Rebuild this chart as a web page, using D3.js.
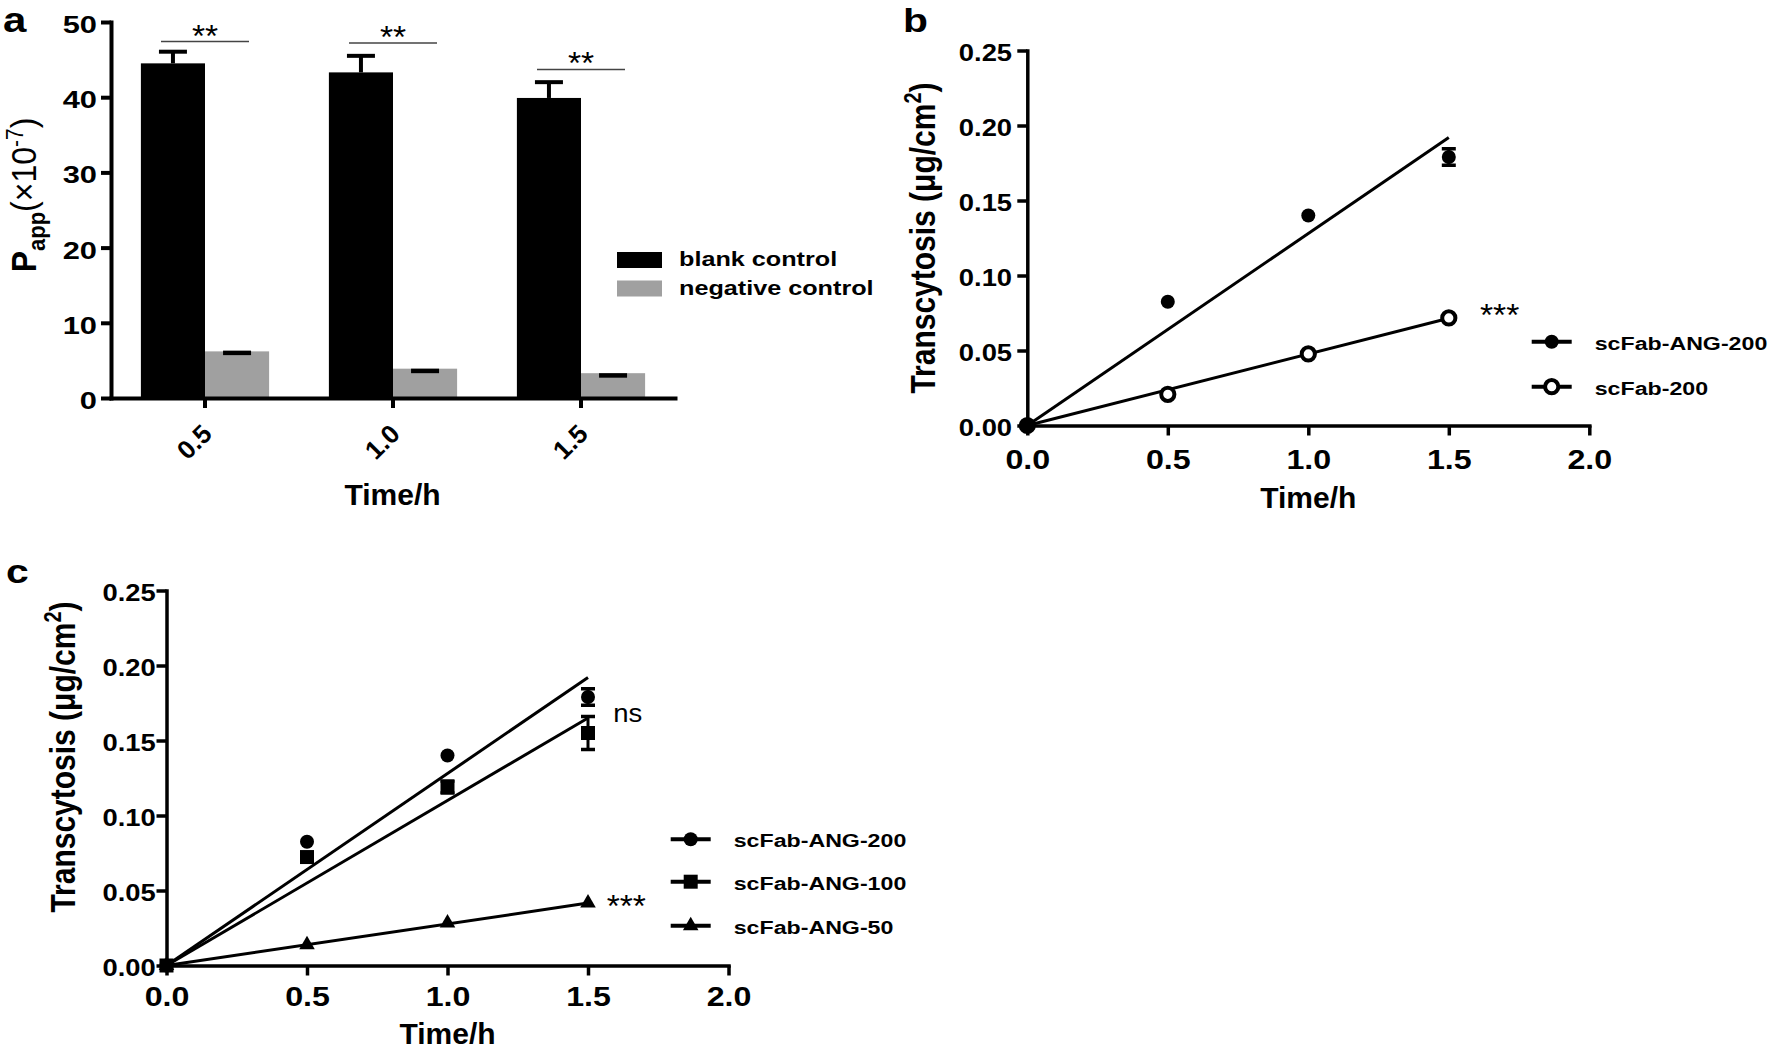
<!DOCTYPE html>
<html><head><meta charset="utf-8">
<script src="https://cdn.jsdelivr.net/npm/d3@7"></script>
<style>
body{margin:0;background:#fff}
svg{display:block}
text{font-family:"Liberation Sans",Arial,Helvetica,sans-serif}
</style>
</head><body>
<svg id="chart" width="1772" height="1050"></svg>
<script>
// ---------- Panel a data ----------
const timesA = ["0.5", "1.0", "1.5"];
const blankMean = [44.5, 43.3, 39.9];
const blankErr = [1.55, 2.2, 2.1];
const negMean = [6.2, 3.9, 3.3];
const negCap = [6.0, 3.6, 3.0];
const sigLineA = [47.4, 47.2, 43.7];
const sigLabelA = ["**", "**", "**"];
const ticksA = [0, 10, 20, 30, 40, 50];
const legendA = ["blank control", "negative control"];

// ---------- Panels b / c data ----------
const timesT = [0, 0.5, 1.0, 1.5];
const ang200 = [0, 0.0825, 0.140, 0.179];
const ang200Err = [0, 0, 0, 0.0055];
const fab200 = [0, 0.0208, 0.0477, 0.0717];
const fab200Err = [0, 0, 0, 0];
const ang100 = [0, 0.0723, 0.119, 0.155];
const ang100Err = [0, 0, 0.004, 0.011];
const ang50 = [0, 0.0138, 0.0283, 0.0416];
const ang50Err = [0, 0, 0, 0];
// fitted lines: value at time 0 and at time 1.5
const fitX = [0, 1.5];
const fitAng200 = [0, 0.192];
const fitFab200 = [0, 0.0715];
const fitAng100 = [0, 0.165];
const fitAng50 = [0, 0.0416];
const ticksXT = [0, 0.5, 1.0, 1.5, 2.0];
const ticksYT = [0, 0.05, 0.10, 0.15, 0.20, 0.25];

const svg = d3.select("#chart");

function stext(parent, x, y, s, size, weight, sx, anchor) {
  return parent.append("text")
    .attr("transform", `translate(${x},${y}) scale(${sx},1)`)
    .attr("text-anchor", anchor || "start")
    .style("font-size", size + "px")
    .style("font-weight", weight)
    .attr("fill", "#000")
    .text(s);
}

// ================= Panel a =================
const xA = d3.scaleBand().domain(timesA).range([111, 675]).paddingInner(0.318).paddingOuter(0.159);
const yA = d3.scaleLinear().domain([0, 50]).range([398, 22]);
const gA = svg.append("g");
const bw = xA.bandwidth() / 2;

gA.selectAll(".blank").data(timesA).join("rect")
  .attr("x", d => xA(d)).attr("width", bw)
  .attr("y", (d, i) => yA(blankMean[i])).attr("height", (d, i) => yA(0) - yA(blankMean[i]))
  .attr("fill", "#000");
gA.selectAll(".neg").data(timesA).join("rect")
  .attr("x", d => xA(d) + bw).attr("width", bw)
  .attr("y", (d, i) => yA(negMean[i])).attr("height", (d, i) => yA(0) - yA(negMean[i]))
  .attr("fill", "#a0a0a0");
timesA.forEach((d, i) => {
  const cx = xA(d) + bw / 2;
  gA.append("line").attr("x1", cx).attr("x2", cx)
    .attr("y1", yA(blankMean[i])).attr("y2", yA(blankMean[i] + blankErr[i]))
    .attr("stroke", "#000").attr("stroke-width", 4);
  gA.append("line").attr("x1", cx - 14).attr("x2", cx + 14)
    .attr("y1", yA(blankMean[i] + blankErr[i])).attr("y2", yA(blankMean[i] + blankErr[i]))
    .attr("stroke", "#000").attr("stroke-width", 4);
  const cg = xA(d) + bw * 1.5;
  gA.append("line").attr("x1", cg - 14).attr("x2", cg + 14)
    .attr("y1", yA(negCap[i])).attr("y2", yA(negCap[i]))
    .attr("stroke", "#000").attr("stroke-width", 4.5);
  const c = xA(d) + xA.bandwidth() / 2;
  gA.append("line").attr("x1", c - 44).attr("x2", c + 44)
    .attr("y1", yA(sigLineA[i])).attr("y2", yA(sigLineA[i]))
    .attr("stroke", "#444").attr("stroke-width", 1.5);
  stext(gA, c, yA(sigLineA[i]) + 5, sigLabelA[i], 32, "normal", 1.05, "middle");
});

const ayA = gA.append("g").attr("transform", "translate(111,0)")
  .call(d3.axisLeft(yA).tickValues(ticksA).tickSize(10).tickSizeOuter(0).tickFormat(d3.format("d")));
ayA.select(".domain").attr("stroke-width", 4).attr("stroke-linecap", "square");
ayA.selectAll(".tick line").attr("stroke-width", 4);
ayA.selectAll("text").attr("x", -10.5).attr("dy", "0.46em").attr("transform", "scale(1.34,1)")
  .style("font-size", "23px").style("font-weight", "bold").attr("fill", "#000");

const axA = gA.append("g").attr("transform", "translate(0,398)")
  .call(d3.axisBottom(xA).tickSize(10).tickSizeOuter(0));
axA.select(".domain").attr("stroke-width", 4).attr("stroke-linecap", "square");
axA.selectAll(".tick line").attr("stroke-width", 4);
axA.selectAll("text").attr("x", 0).attr("y", 0).attr("dy", "0.35em")
  .attr("text-anchor", "end").attr("transform", "translate(2,31) rotate(-45)")
  .style("font-size", "26px").style("font-weight", "bold").attr("fill", "#000");
svg.selectAll("g").attr("font-family", null).attr("font-size", null);

stext(svg, 392.5, 505, "Time/h", 30, "bold", 1, "middle");
const tA = svg.append("text").attr("transform", "translate(36,195) scale(1.1,1) rotate(-90)")
  .attr("text-anchor", "middle").style("font-size", "32px");
tA.append("tspan").text("P").style("font-weight", "bold");
tA.append("tspan").text("app").style("font-weight", "bold").style("font-size", "22px").attr("dy", 8);
tA.append("tspan").text("(×10").style("font-weight", "normal").attr("dy", -8);
tA.append("tspan").text("-7").style("font-weight", "normal").style("font-size", "21px").attr("dy", -12);
tA.append("tspan").text(")").style("font-weight", "normal").attr("dy", 12);
stext(svg, 3, 32, "a", 35, "bold", 1.2, "start");

const legFill = ["#000", "#a0a0a0"];
const legY = [252, 280.5];
legendA.forEach((s, i) => {
  svg.append("rect").attr("x", 617).attr("y", legY[i]).attr("width", 45).attr("height", 16).attr("fill", legFill[i]);
  stext(svg, 679, legY[i] + 14, s, 21, "bold", 1.2, "start");
});

// ================= Panels b / c =================
function drawMarker(g, type, cx, cy) {
  if (type === "circle") {
    g.append("circle").attr("cx", cx).attr("cy", cy).attr("r", 7).attr("fill", "#000");
  } else if (type === "open") {
    g.append("circle").attr("cx", cx).attr("cy", cy).attr("r", 6.6).attr("fill", "#fff")
      .attr("stroke", "#000").attr("stroke-width", 4);
  } else if (type === "square") {
    g.append("path").attr("d", d3.symbol(d3.symbolSquare, 196)())
      .attr("transform", `translate(${cx},${cy})`).attr("fill", "#000");
  } else if (type === "triangle") {
    g.append("path").attr("d", d3.symbol(d3.symbolTriangle, 105)())
      .attr("transform", `translate(${cx},${cy})`).attr("fill", "#000");
  }
}

function xyPanel(cfg) {
  const x = d3.scaleLinear().domain([0, 2]).range(cfg.xr);
  const y = d3.scaleLinear().domain([0, 0.25]).range(cfg.yr);
  const g = svg.append("g");

  const ay = g.append("g").attr("transform", `translate(${cfg.xr[0]},0)`)
    .call(d3.axisLeft(y).tickValues(ticksYT).tickSize(10).tickSizeOuter(0).tickFormat(d3.format(".2f")));
  ay.select(".domain").attr("stroke-width", 3.5).attr("stroke-linecap", "square");
  ay.selectAll(".tick line").attr("stroke-width", 3.5);
  ay.selectAll("text").attr("x", cfg.ylabX).attr("dy", "0.42em").attr("transform", "scale(1.19,1)")
    .style("font-size", "23px").style("font-weight", "bold").attr("fill", "#000");

  const ax = g.append("g").attr("transform", `translate(0,${cfg.yr[0]})`)
    .call(d3.axisBottom(x).tickValues(ticksXT).tickSize(10).tickSizeOuter(0).tickFormat(d3.format(".1f")));
  ax.select(".domain").attr("stroke-width", 3.5).attr("stroke-linecap", "square");
  ax.selectAll(".tick line").attr("stroke-width", 3.5);
  ax.selectAll("text").attr("y", cfg.xlabY).attr("dy", 0).attr("transform", "scale(1.15,1)")
    .style("font-size", "28px").style("font-weight", "bold").attr("fill", "#000");
  g.selectAll("g").attr("font-family", null).attr("font-size", null);

  const line = d3.line().x(d => x(d[0])).y(d => y(d[1]));
  cfg.series.forEach(s => {
    g.append("path").datum(fitX.map((t, i) => [t, s.fit[i]]))
      .attr("d", line).attr("fill", "none").attr("stroke", "#000").attr("stroke-width", 3);
  });
  cfg.series.forEach(s => {
    timesT.forEach((t, i) => {
      const e = s.err[i];
      if (e > 0) {
        const cx = x(t);
        g.append("line").attr("x1", cx).attr("x2", cx).attr("y1", y(s.values[i] - e)).attr("y2", y(s.values[i] + e))
          .attr("stroke", "#000").attr("stroke-width", 3);
        [s.values[i] - e, s.values[i] + e].forEach(v => {
          g.append("line").attr("x1", cx - 7).attr("x2", cx + 7).attr("y1", y(v)).attr("y2", y(v))
            .attr("stroke", "#000").attr("stroke-width", 3.5);
        });
      }
    });
  });
  cfg.series.forEach(s => {
    timesT.forEach((t, i) => drawMarker(g, s.marker, x(t), y(s.values[i])));
  });

  cfg.series.slice().sort((a, b) => a.legendOrder - b.legendOrder).forEach((s, i) => {
    const ly = cfg.legY[i];
    g.append("line").attr("x1", cfg.legX).attr("x2", cfg.legX + 40).attr("y1", ly).attr("y2", ly)
      .attr("stroke", "#000").attr("stroke-width", 4);
    drawMarker(g, s.marker, cfg.legX + 20, ly);
    stext(g, cfg.legX + 63, ly + 8, s.name, 19, "bold", 1.22, "start");
  });

  stext(svg, (cfg.xr[0] + cfg.xr[1]) / 2, cfg.titleXY, "Time/h", 30, "bold", 1, "middle");
  const t = svg.append("text").attr("transform", `translate(${cfg.ytitle[0]},${cfg.ytitle[1]}) scale(1.15,1) rotate(-90)`)
    .attr("text-anchor", "middle").style("font-size", "30px").style("font-weight", "bold");
  t.append("tspan").text("Transcytosis (μg/cm");
  t.append("tspan").text("2").style("font-size", "20px").attr("dy", -12);
  t.append("tspan").text(")").attr("dy", 12);
  return { x, y, g };
}

const pb = xyPanel({
  xr: [1027.3, 1589.3], yr: [425.5, 50.5], ylabX: -12.8, xlabY: 44,
  legX: 1531.7, legY: [341.7, 386.7], titleXY: 508, ytitle: [935, 238],
  series: [
    { name: "scFab-200", values: fab200, err: fab200Err, fit: fitFab200, marker: "open", legendOrder: 2 },
    { name: "scFab-ANG-200", values: ang200, err: ang200Err, fit: fitAng200, marker: "circle", legendOrder: 1 }
  ]
});
stext(svg, 1480, 326, "***", 32, "normal", 1.05, "start");
stext(svg, 903, 31.7, "b", 34, "bold", 1.2, "start");

const pc = xyPanel({
  xr: [166.5, 728.5], yr: [965.5, 590.5], ylabX: -9, xlabY: 41,
  legX: 670.7, legY: [839.3, 881.7, 925.7], titleXY: 1044, ytitle: [74.5, 757],
  series: [
    { name: "scFab-ANG-50", values: ang50, err: ang50Err, fit: fitAng50, marker: "triangle", legendOrder: 3 },
    { name: "scFab-ANG-200", values: ang200, err: ang200Err, fit: fitAng200, marker: "circle", legendOrder: 1 },
    { name: "scFab-ANG-100", values: ang100, err: ang100Err, fit: fitAng100, marker: "square", legendOrder: 2 }
  ]
});
stext(svg, 613.3, 721.7, "ns", 25, "normal", 1.1, "start");
stext(svg, 606.7, 916.5, "***", 32, "normal", 1.05, "start");
stext(svg, 6, 583, "c", 34, "bold", 1.2, "start");
</script>
</body></html>
